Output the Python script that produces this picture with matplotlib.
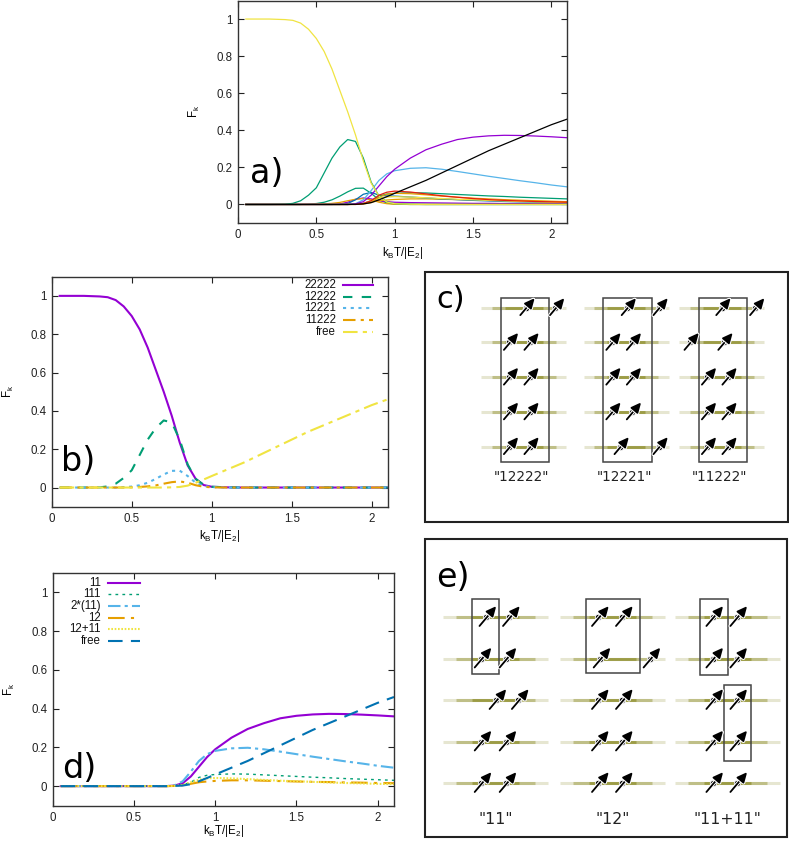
import matplotlib.pyplot as plt
import matplotlib.patheffects as pe
from matplotlib.patches import Rectangle

plt.rcParams['font.family'] = ['Liberation Sans', 'DejaVu Sans']
plt.rcParams['mathtext.default'] = 'regular'

# temperature grid (k_B T / |E_2|)
T = [0.05, 0.2, 0.3, 0.35, 0.4, 0.45, 0.5, 0.55, 0.6, 0.65, 0.7, 0.75, 0.8, 0.85,
     0.9, 0.95, 1.0, 1.1, 1.2, 1.3, 1.4, 1.5, 1.6, 1.7, 1.8, 1.9, 2.0, 2.1]

f_22222 = [1.0, 1.0, 0.997, 0.993, 0.978, 0.945, 0.895, 0.825, 0.73, 0.615, 0.5, 0.375, 0.235, 0.115,
           0.045, 0.013, 0.004, 0.001, 0, 0, 0, 0, 0, 0, 0, 0, 0, 0]
f_12222 = [0, 0, 0.001, 0.006, 0.02, 0.05, 0.09, 0.17, 0.25, 0.31, 0.35, 0.34, 0.25, 0.12,
           0.045, 0.014, 0.004, 0.001, 0, 0, 0, 0, 0, 0, 0, 0, 0, 0]
f_12221 = [0, 0, 0, 0, 0, 0.002, 0.005, 0.012, 0.025, 0.045, 0.068, 0.087, 0.088, 0.06,
           0.025, 0.008, 0.002, 0, 0, 0, 0, 0, 0, 0, 0, 0, 0, 0]
f_11222 = [0, 0, 0, 0, 0, 0, 0.001, 0.003, 0.006, 0.011, 0.02, 0.028, 0.032, 0.025,
           0.012, 0.004, 0.001, 0, 0, 0, 0, 0, 0, 0, 0, 0, 0, 0]
f_free = [0, 0, 0, 0, 0, 0, 0, 0, 0, 0, 0, 0.001, 0.003, 0.01,
          0.025, 0.042, 0.06, 0.095, 0.13, 0.17, 0.21, 0.25, 0.29, 0.325, 0.36, 0.395, 0.43, 0.46]
f_11 = [0, 0, 0, 0, 0, 0, 0, 0, 0, 0, 0, 0.003, 0.015, 0.05,
        0.1, 0.15, 0.19, 0.25, 0.295, 0.325, 0.35, 0.363, 0.37, 0.373, 0.372, 0.369, 0.365, 0.36]
f_111 = [0, 0, 0, 0, 0, 0, 0, 0, 0, 0, 0, 0.001, 0.006, 0.02,
         0.045, 0.056, 0.06, 0.063, 0.062, 0.058, 0.054, 0.05, 0.046, 0.043, 0.039, 0.036, 0.033, 0.03]
f_2x11 = [0, 0, 0, 0, 0, 0, 0, 0, 0, 0, 0, 0.004, 0.025, 0.075,
          0.13, 0.165, 0.182, 0.195, 0.198, 0.19, 0.178, 0.165, 0.152, 0.14, 0.128, 0.117, 0.105, 0.095]
f_12 = [0, 0, 0, 0, 0, 0, 0, 0, 0, 0, 0, 0.001, 0.005, 0.012,
        0.02, 0.024, 0.027, 0.03, 0.03, 0.028, 0.026, 0.024, 0.022, 0.021, 0.019, 0.018, 0.016, 0.015]
f_12p11 = [0, 0, 0, 0, 0, 0, 0, 0, 0, 0, 0, 0.001, 0.006, 0.02,
           0.033, 0.04, 0.042, 0.04, 0.036, 0.032, 0.028, 0.025, 0.022, 0.019, 0.016, 0.014, 0.012, 0.01]
# extra minor fractions shown only in panel a
f_a_red = [0, 0, 0, 0, 0, 0, 0, 0, 0, 0, 0, 0, 0.005, 0.02,
           0.05, 0.066, 0.072, 0.067, 0.057, 0.047, 0.039, 0.032, 0.026, 0.022, 0.019, 0.016, 0.014, 0.012]
f_a_blue = [0, 0, 0, 0, 0, 0, 0, 0, 0, 0, 0.005, 0.025, 0.055, 0.065,
            0.05, 0.046, 0.045, 0.04, 0.035, 0.03, 0.026, 0.022, 0.019, 0.016, 0.014, 0.012, 0.011, 0.01]
f_a_purple = [0, 0, 0, 0, 0, 0, 0, 0, 0, 0.003, 0.012, 0.028, 0.035, 0.03,
              0.02, 0.015, 0.012, 0.01, 0.009, 0.008, 0.007, 0.006, 0.006, 0.005, 0.005, 0.004, 0.004, 0.004]
f_a_orange = [0, 0, 0, 0, 0, 0, 0, 0, 0, 0, 0, 0, 0.002, 0.01,
              0.04, 0.055, 0.06, 0.058, 0.052, 0.045, 0.039, 0.034, 0.03, 0.026, 0.023, 0.02, 0.017, 0.015]

PURPLE, GREEN, LBLUE, ORANGE = '#9400d3', '#009e73', '#56b4e9', '#e69f00'
YELLOW, BLUE, RED = '#f0e442', '#0072b2', '#e51e10'

b_labels = ['22222', '12222', '12221', '11222', 'free']
b_series = [f_22222, f_12222, f_12221, f_11222, f_free]
b_styles = [
    dict(color=PURPLE, lw=1.5, ls='-'),
    dict(color=GREEN, lw=1.5, ls=(0, (4.5, 4.5))),
    dict(color=LBLUE, lw=1.5, ls=(0, (1.5, 2.2))),
    dict(color=ORANGE, lw=1.5, ls=(0, (6, 2.5, 1.5, 2.5))),
    dict(color=YELLOW, lw=1.5, ls=(0, (7, 2.5, 2, 2.5))),
]
d_labels = ['11', '111', '2*(11)', '12', '12+11', 'free']
d_series = [f_11, f_111, f_2x11, f_12, f_12p11, f_free]
d_styles = [
    dict(color=PURPLE, lw=1.5, ls='-'),
    dict(color=GREEN, lw=1.0, ls=(0, (2, 3))),
    dict(color=LBLUE, lw=1.5, ls=(0, (6, 2, 1.5, 2))),
    dict(color=ORANGE, lw=1.5, ls=(0, (8, 3, 1.5, 3))),
    dict(color=YELLOW, lw=1.5, ls=(0, (0.8, 0.8))),
    dict(color=BLUE, lw=1.5, ls=(0, (7, 4))),
]

# schematic configurations: (site, row)
c_labels = ['"12222"', '"12221"', '"11222"']
c_spins = [
    [(0.8, 0), (2.25, 0), (0, 1), (1, 1), (0, 2), (1, 2), (0, 3), (1, 3), (0, 4), (1, 4)],
    [(0.75, 0), (2.3, 0), (0, 1), (1, 1), (0, 2), (1, 2), (0, 3), (1, 3), (0.4, 4), (2.3, 4)],
    [(0.7, 0), (2.35, 0), (-0.85, 1), (0.8, 1), (0, 2), (1, 2), (0, 3), (1, 3), (0, 4), (1, 4)],
]
c_boxes = [[(-0.42, 1.95, -0.29, 4.45)]] * 3
e_labels = ['"11"', '"12"', '"11+11"']
e_spins = [
    [(0.2, 0), (1.18, 0), (0, 1), (1.04, 1), (0.62, 2), (1.55, 2), (0, 3), (1.04, 3), (0, 4), (1.04, 4)],
    [(0, 0), (1, 0), (0.07, 1), (2.15, 1), (0, 2), (1, 2), (0, 3), (1, 3), (0, 4), (1, 4)],
    [(0, 0), (1, 0), (0, 1), (1, 1), (0, 2), (1, 2), (0, 3), (1, 3), (0, 4), (1, 4)],
]
e_boxes = [
    [(-0.39, 0.75, -0.43, 1.37)],
    [(-0.5, 1.75, -0.43, 1.35)],
    [(-0.52, 0.63, -0.43, 1.4), (0.46, 1.6, 1.63, 3.46)],
]

W, H = 789, 841
FS = 8.3
fig = plt.figure(figsize=(W / 100, H / 100), dpi=100)


def px_axes(l, t, r, b):
    return fig.add_axes([l / W, 1 - b / H, (r - l) / W, (b - t) / H])


def setup(ax, letter, lpos, ylab_x, xlab_y):
    ax.set_xlim(0, 2.1)
    ax.set_ylim(-0.1, 1.1)
    ax.set_xticks([0, 0.5, 1, 1.5, 2])
    ax.set_xticklabels(['0', '0.5', '1', '1.5', '2'])
    ax.set_yticks([0, 0.2, 0.4, 0.6, 0.8, 1])
    ax.set_yticklabels(['0', '0.2', '0.4', '0.6', '0.8', '1'])
    ax.tick_params(direction='in', top=True, right=True, length=4, width=0.8,
                   labelsize=FS, colors='#222222')
    ax.tick_params(axis='x', pad=4.5)
    ax.tick_params(axis='y', pad=4)
    for s in ax.spines.values():
        s.set_linewidth(1.0)
        s.set_color('#333333')
    ax.set_ylabel('F$_k$', fontsize=FS)
    ax.set_xlabel('k$_B$T/|E$_2$|', fontsize=FS)
    ax.yaxis.set_label_coords(ylab_x, 0.5)
    ax.xaxis.set_label_coords(0.5, xlab_y)
    ax.text(lpos[0], lpos[1], letter, fontsize=24, family='DejaVu Sans',
            ha='left', va='baseline')


def key(ax, labels, styles, text_x, line_x0, line_x1, y_top, dy):
    # gnuplot-style key: right-aligned text followed by the line sample
    for i, (lab, st) in enumerate(zip(labels, styles)):
        y = y_top - i * dy
        ax.plot([line_x0, line_x1], [y, y], transform=ax.transAxes, clip_on=False, **st)
        ax.text(text_x, y, lab, transform=ax.transAxes, ha='right', va='center',
                fontsize=FS, color='#111111')


# overlay for schematics
ov = fig.add_axes([0, 0, 1, 1])
ov.set_xlim(0, W)
ov.set_ylim(H, 0)
ov.axis('off')

# ---- panel a
axa = px_axes(238, 0.5, 567, 223)
lw_a = 0.9
for y, c in [(f_12221, GREEN), (f_a_purple, PURPLE), (f_11222, ORANGE), (f_12, ORANGE),
             (f_a_blue, BLUE), (f_111, GREEN), (f_12p11, YELLOW), (f_a_orange, ORANGE),
             (f_2x11, LBLUE), (f_11, PURPLE), (f_12222, GREEN), (f_22222, YELLOW),
             (f_a_red, RED), (f_free, 'black')]:
    axa.plot(T, y, color=c, lw=lw_a)
setup(axa, 'a)', (0.075, 0.117), -0.11, -0.1)

# ---- panel b
axb = px_axes(51.7, 276.7, 387.7, 506.7)
for y, st in zip(b_series, b_styles):
    axb.plot(T, y, **st)
setup(axb, 'b)', (0.06, 0.087), -0.105, -0.093)
key(axb, b_labels, b_styles, 0.846, 0.868, 0.957, 0.964, 0.0509)

# ---- panel d
axd = px_axes(52.7, 573, 394, 805.5)
for y, st in zip(d_series, d_styles):
    axd.plot(T, y, **st)
setup(axd, 'd)', (0.055, 0.04), -0.105, -0.075)
key(axd, d_labels, d_styles, 0.1415, 0.163, 0.256, 0.958, 0.0499)


# ---- schematics
OLIVE = '#85851a'


def spin(x, y, size):
    a = ov.annotate('', xy=(x + 0.75 * size, y - 0.8 * size), xytext=(x - 0.45 * size, y + 0.62 * size),
                    arrowprops=dict(arrowstyle='-|>,head_length=0.6,head_width=0.28', color='black',
                                    lw=1.3, shrinkA=0, shrinkB=0, mutation_scale=10))
    a.arrow_patch.set_path_effects([pe.withStroke(linewidth=2.8, foreground='white')])
    ov.plot([x], [y], 'o', ms=4.6, color='black', mec='white', mew=0.6)


def lattice_line(x_lo, x_hi, y):
    mid = (x_lo + x_hi) / 2
    half = (x_hi - x_lo) / 2
    ov.plot([x_lo, x_hi], [y, y], color=OLIVE, lw=2.2, alpha=0.2, solid_capstyle='butt')
    ov.plot([mid - 0.75 * half, mid + 0.75 * half], [y, y], color=OLIVE, lw=2.2, alpha=0.4,
            solid_capstyle='butt')
    ov.plot([mid - 0.45 * half, mid + 0.45 * half], [y, y], color=OLIVE, lw=2.0, alpha=0.6,
            solid_capstyle='butt')


def schematic(x0s, spacing, y0, dy, spins, boxes, labels, label_y, fsize, line_span, ssize):
    for x0, sp, bx, lab in zip(x0s, spins, boxes, labels):
        for r in range(5):
            lattice_line(x0 + line_span[0], x0 + line_span[1], y0 + r * dy)
        for (xl, xh, rl, rh) in bx:
            ov.add_patch(Rectangle((x0 + xl * spacing, y0 + rl * dy), (xh - xl) * spacing,
                                   (rh - rl) * dy, fill=False, ec='#444444', lw=1.1, zorder=3))
        for (s, r) in sp:
            spin(x0 + s * spacing, y0 + r * dy, ssize)
        ov.text(x0 + 0.6 * spacing, label_y, lab, ha='center', va='center', fontsize=fsize,
                family='DejaVu Sans', color='#222222')


# panel c
ov.add_patch(Rectangle((424.7, 272), 363, 250, fill=False, ec='#222222', lw=1.5))
ov.text(436, 308.5, 'c)', fontsize=22, family='DejaVu Sans', ha='left', va='baseline')
schematic([509.3, 611.7, 707.3], 20.5, 307.7, 34.75, c_spins, c_boxes, c_labels,
          477.3, 9.8, (-28, 57), 12)

# panel e
ov.add_patch(Rectangle((424.7, 539), 362, 297.7, fill=False, ec='#222222', lw=1.5))
ov.text(436, 587, 'e)', fontsize=24, family='DejaVu Sans', ha='left', va='baseline')
schematic([481, 598.3, 712.7], 24, 617.3, 41.5, e_spins, e_boxes, e_labels,
          820, 11.3, (-38, 67), 14)

fig.savefig('out.png', dpi=100)
